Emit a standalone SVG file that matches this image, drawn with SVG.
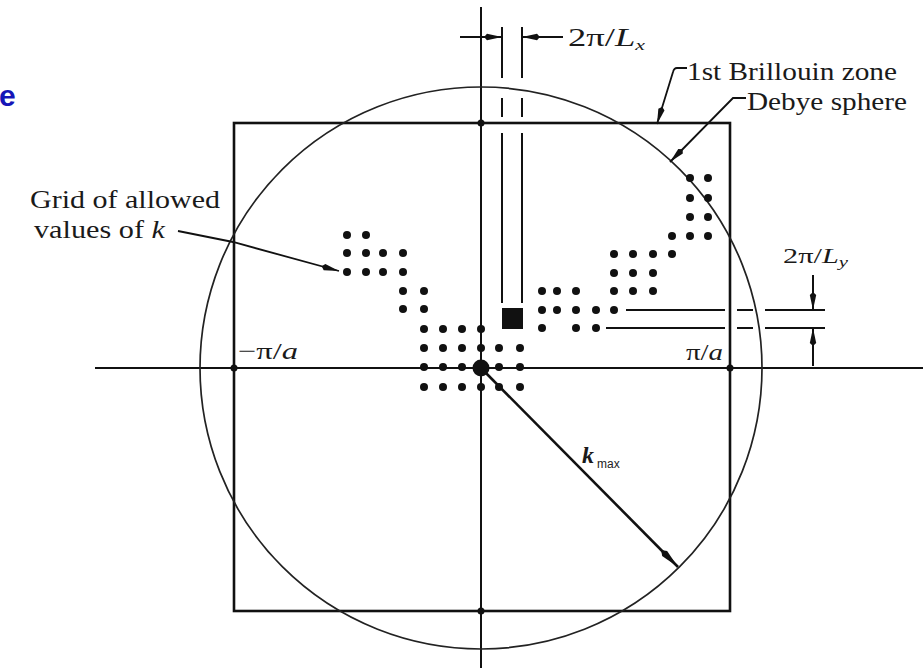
<svg xmlns="http://www.w3.org/2000/svg" width="923" height="668" viewBox="0 0 923 668">
<style>
.ln{stroke:#111;fill:none;stroke-linecap:butt}
.ax{stroke:#111;stroke-width:2;fill:none}
.bz{stroke:#111;stroke-width:2.6;fill:none}
.ds{stroke:#222;stroke-width:1.7;fill:none}
.dim{stroke:#111;stroke-width:2;fill:none}
.ld{stroke:#111;stroke-width:1.8;fill:none}
.dot{fill:#111}
.t{font-family:"Liberation Serif","Times New Roman",serif;fill:#1a1a1a}
.i{font-style:italic}
</style>
<defs>
<marker id="arr" viewBox="0 0 18 8" refX="18" refY="4" markerWidth="18" markerHeight="8" orient="auto" markerUnits="userSpaceOnUse">
<path d="M0,4 L3,0.8 L18,4 L3,7.2 z" fill="#111"/>
</marker>
<marker id="arrL" viewBox="0 0 24 9" refX="24" refY="4.5" markerWidth="24" markerHeight="9" orient="auto" markerUnits="userSpaceOnUse">
<path d="M0,4.5 L5,1 L24,4.5 L5,8 z" fill="#111"/>
</marker>
<circle id="d" r="4" class="dot"/>
</defs>

<text x="-1" y="106" font-family="Liberation Sans,Arial,sans-serif" font-weight="bold" font-size="30" fill="#1616b8">e</text>

<g id="axes">
<line class="ax" x1="481" y1="7" x2="481" y2="668"/>
<line class="ax" x1="95" y1="368" x2="923" y2="368"/>
</g>

<g id="brillouin-zone">
<rect class="bz" x="234" y="123" width="496" height="488"/>
<circle class="dot" cx="481" cy="123" r="3.5"/>
<circle class="dot" cx="481" cy="611" r="3.5"/>
<circle class="dot" cx="234" cy="368" r="3.5"/>
<circle class="dot" cx="730" cy="368" r="3.5"/>
</g>

<g id="debye-sphere">
<circle class="ds" cx="481" cy="368" r="281"/>
</g>

<g id="origin">
<circle class="dot" cx="481" cy="368" r="8.5"/>
</g>

<g id="cell">
<rect x="502" y="308" width="21" height="21" fill="#111"/>
</g>

<g id="grid-left">
<use href="#d" x="347" y="235"/><use href="#d" x="366" y="235"/>
<use href="#d" x="347" y="253"/><use href="#d" x="366" y="253"/><use href="#d" x="383" y="253"/><use href="#d" x="403" y="253"/>
<use href="#d" x="347" y="272"/><use href="#d" x="366" y="272"/><use href="#d" x="383" y="272"/><use href="#d" x="403" y="272"/>
<use href="#d" x="403" y="291"/><use href="#d" x="424" y="291"/>
<use href="#d" x="403" y="309"/><use href="#d" x="424" y="309"/>
<use href="#d" x="424" y="329"/><use href="#d" x="443" y="329"/><use href="#d" x="462" y="329"/><use href="#d" x="481" y="329"/>
<use href="#d" x="424" y="348"/><use href="#d" x="443" y="348"/><use href="#d" x="462" y="348"/><use href="#d" x="481" y="348"/><use href="#d" x="499" y="348"/><use href="#d" x="520" y="348"/>
<use href="#d" x="424" y="367"/><use href="#d" x="443" y="367"/><use href="#d" x="462" y="367"/><use href="#d" x="499" y="367"/><use href="#d" x="520" y="367"/>
<use href="#d" x="424" y="387"/><use href="#d" x="443" y="387"/><use href="#d" x="462" y="387"/><use href="#d" x="481" y="387"/><use href="#d" x="499" y="387"/><use href="#d" x="520" y="387"/>
</g>

<g id="grid-right">
<use href="#d" x="690" y="178"/><use href="#d" x="708" y="178"/>
<use href="#d" x="690" y="198"/><use href="#d" x="708" y="198"/>
<use href="#d" x="690" y="217"/><use href="#d" x="708" y="217"/>
<use href="#d" x="672" y="236"/><use href="#d" x="690" y="236"/><use href="#d" x="708" y="236"/>
<use href="#d" x="614" y="254"/><use href="#d" x="633" y="254"/><use href="#d" x="653" y="254"/><use href="#d" x="672" y="254"/>
<use href="#d" x="614" y="273"/><use href="#d" x="633" y="273"/><use href="#d" x="653" y="273"/>
<use href="#d" x="542" y="291"/><use href="#d" x="557" y="291"/><use href="#d" x="576" y="291"/><use href="#d" x="614" y="291"/><use href="#d" x="633" y="291"/><use href="#d" x="653" y="291"/>
<use href="#d" x="542" y="310"/><use href="#d" x="557" y="310"/><use href="#d" x="576" y="310"/><use href="#d" x="596" y="310"/><use href="#d" x="614" y="310"/>
<use href="#d" x="542" y="328"/><use href="#d" x="576" y="328"/><use href="#d" x="596" y="328"/>
</g>

<g id="connectors">
<path class="dim" d="M502,27 V78 M502,98 V117 M502,133 V303 M522,27 V78 M522,98 V117 M522,133 V303"/>
<line class="dim" x1="460" y1="37" x2="502" y2="37" marker-end="url(#arr)"/>
<line class="dim" x1="563" y1="37" x2="522" y2="37" marker-end="url(#arr)"/>
<path class="dim" d="M626,310 H725 M737,310 H753 M765,310 H825 M606,328 H725 M737,328 H753 M765,328 H825"/>
<line class="dim" x1="813" y1="275" x2="813" y2="310" marker-end="url(#arr)"/>
<line class="dim" x1="813" y1="366" x2="813" y2="328" marker-end="url(#arr)"/>
<path class="ld" d="M687,68 H677 Q674,68 673,72 L657,124" marker-end="url(#arr)"/>
<path class="ld" d="M746,98 H733 L670,162" marker-end="url(#arr)"/>
<path class="ld" d="M178,231 L233,242 L339,271" marker-end="url(#arr)"/>
<line x1="481" y1="368" x2="678" y2="567" stroke="#111" stroke-width="2.6" marker-end="url(#arrL)"/>
</g>

<g id="labels">
<text class="t" x="568" y="46" font-size="25" textLength="77" lengthAdjust="spacingAndGlyphs">2π/<tspan class="i">L</tspan><tspan class="i" font-size="15" dy="4">x</tspan></text>
<text class="t" x="687" y="80" font-size="25" textLength="210" lengthAdjust="spacingAndGlyphs">1st Brillouin zone</text>
<text class="t" x="747" y="110" font-size="25" textLength="160" lengthAdjust="spacingAndGlyphs">Debye sphere</text>
<text class="t" x="30" y="208" font-size="25" textLength="190" lengthAdjust="spacingAndGlyphs">Grid of allowed</text>
<text class="t" x="34" y="238" font-size="25" textLength="131" lengthAdjust="spacingAndGlyphs">values of <tspan class="i">k</tspan></text>
<text class="t" x="238" y="359" font-size="24" textLength="60" lengthAdjust="spacingAndGlyphs">−π/<tspan class="i">a</tspan></text>
<text class="t" x="686" y="360" font-size="24" textLength="37" lengthAdjust="spacingAndGlyphs">π/<tspan class="i">a</tspan></text>
<text class="t" x="783" y="263" font-size="22" textLength="65" lengthAdjust="spacingAndGlyphs">2π/<tspan class="i">L</tspan><tspan class="i" font-size="15" dy="4">y</tspan></text>
<text class="t i" x="582" y="463" font-size="24" font-weight="bold">k</text>
<text x="597" y="468" font-size="12" font-family="Liberation Sans,Arial,sans-serif" fill="#222">max</text>
</g>
</svg>
